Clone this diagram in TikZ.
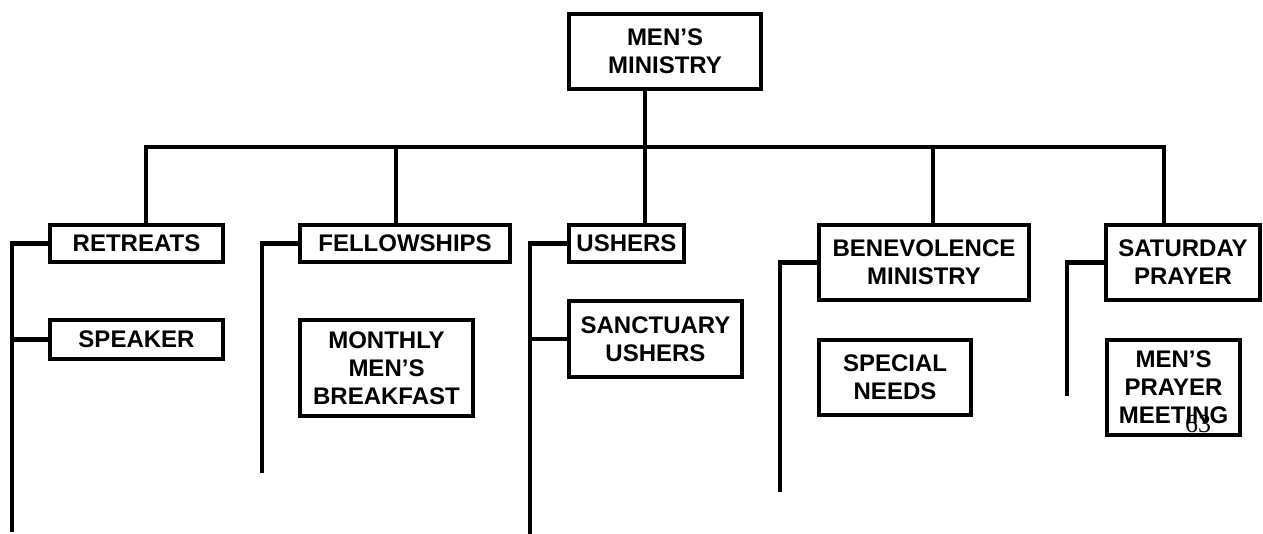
\documentclass[tikz,border=0pt]{standalone}
\usepackage{fontspec}
\setmainfont{Liberation Sans}
\newfontfamily\pagefont{Liberation Serif}

\begin{document}
\begin{tikzpicture}[x=0.5pt, y=-0.5pt,
    every node/.style={draw, line width=2.2pt, align=center, inner sep=0pt,
      font=\bfseries\fontsize{12}{14}\selectfont},
    sz/.style n args={2}{minimum width=#1, minimum height=#2},
    num/.style={draw=none, font=\pagefont\fontsize{13}{14}\selectfont},
    link/.style={line width=2.2pt},
  ]
  \useasboundingbox (0,0) rectangle (1263,534);

  \node[sz={95.8pt}{37.3pt}] (top) at (665,51.5) {MEN’S\\MINISTRY};

  \node[sz={86.3pt}{18.3pt}] (retreats) at (136.5,243.5) {RETREATS};
  \node[sz={86.3pt}{19.3pt}] (speaker) at (136.5,339.5) {SPEAKER};
  \node[sz={104.8pt}{18.3pt}] (fellowships) at (405,243.5) {FELLOWSHIPS};
  \node[sz={86.3pt}{47.8pt}] (breakfast) at (386.5,368) {MONTHLY\\MEN’S\\BREAKFAST};
  \node[sz={57.3pt}{18.3pt}] (ushers) at (626.5,243.5) {USHERS};
  \node[sz={86.3pt}{37.8pt}] (sanctuary) at (655.5,339) {SANCTUARY\\USHERS};
  \node[sz={104.8pt}{37.3pt}] (benevolence) at (924,262.5) {BENEVOLENCE\\MINISTRY};
  \node[sz={75.8pt}{37.3pt}] (needs) at (895,377.5) {SPECIAL\\NEEDS};
  \node[sz={76.8pt}{37.3pt}] (saturday) at (1183,262.5) {SATURDAY\\PRAYER};
  \node[sz={66.3pt}{47.3pt}] (meeting) at (1173.5,387.5) {MEN’S\\PRAYER\\MEETING};

  \coordinate (b1) at (146,147);
  \coordinate (b2) at (396,147);
  \coordinate (b3) at (645,147);
  \coordinate (b4) at (933,147);
  \coordinate (b5) at (1164,147);
  \draw[link] (b1 |- retreats.north) -- (b1) -- (b5) -- (b5 |- saturday.north);
  \draw[link] (top.south -| b3) -- (b3);
  \foreach \b/\n in {b2/fellowships, b3/ushers, b4/benevolence}
    \draw[link] (\b) -- (\b |- \n.north);

  \coordinate (r1) at (12,532);
  \coordinate (r2) at (262,473);
  \coordinate (r3) at (530,536);
  \coordinate (r4) at (780,492);
  \coordinate (r5) at (1067,396);
  \draw[link] (retreats.west) -| (r1);
  \draw[link] (speaker.west) -- (speaker.west -| r1);
  \draw[link] (fellowships.west) -| (r2);
  \draw[link] (ushers.west) -| (r3);
  \draw[link] (sanctuary.west) -- (sanctuary.west -| r3);
  \draw[link] (benevolence.west) -| (r4);
  \draw[link] (saturday.west) -| (r5);

  \node[num] (pg) at (1198,424) {63};
\end{tikzpicture}
\end{document}
